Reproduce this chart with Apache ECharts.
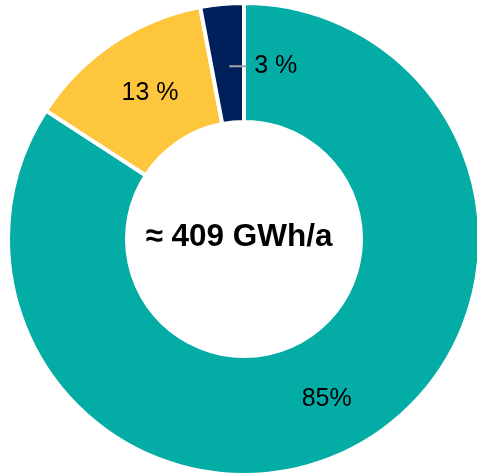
<!DOCTYPE html>
<html>
<head>
<meta charset="utf-8">
<script src="https://cdn.jsdelivr.net/npm/echarts@6/dist/echarts.min.js"></script>
<style>
  html, body { margin: 0; padding: 0; background: #fff; }
  #chart { width: 477px; height: 473px; }
</style>
</head>
<body>
<div id="chart"></div>
<script>
// Share of annual energy by source (percent), clockwise from 12 o'clock
const shareNames = ['A', 'B', 'C'];
const shareValues = [85, 13, 3];
const shareUnits = ['%', ' %', ' %'];
const shareColors = ['#03ADA6', '#FEC63D', '#00205B'];
const totalLabel = '\u2248 409 GWh/a';

const chart = echarts.init(document.getElementById('chart'), null, { renderer: 'canvas' });

const FONT = '"Liberation Sans", Arial, sans-serif';

const data = shareNames.map((name, i) => {
  const item = {
    name: name,
    value: shareValues[i],
    itemStyle: { color: shareColors[i] }
  };
  if (i === 2) {
    // smallest slice: value text sits beside it with a short leader stroke
    item.label = {
      position: 'inside',
      formatter: (p) => '{ln|}{gap|}{txt|' + p.value + shareUnits[p.dataIndex] + '}',
      rich: {
        ln: { width: 17, height: 2, backgroundColor: '#A6A6A6', verticalAlign: 'middle' },
        gap: { width: 8, height: 2 },
        txt: { fontSize: 25, fontFamily: FONT, color: '#000', verticalAlign: 'middle' }
      }
    };
  }
  return item;
});

// small nudges for the slice labels
const labelNudge = [
  { dx: -3, dy: 2 },
  { dx: 6, dy: 3 },
  { dx: 2, dy: 6, align: 'left' }
];

chart.setOption({
  animation: false,
  backgroundColor: '#fff',
  graphic: [{
    type: 'text',
    style: {
      text: totalLabel,
      x: 0, y: 0,
      font: 'bold 31.5px ' + FONT,
      fill: '#000',
      textAlign: 'center',
      textVerticalAlign: 'middle'
    },
    x: 239, y: 237
  }],
  series: [{
    type: 'pie',
    center: [244, 239],
    radius: [117, 236],
    startAngle: 90,
    clockwise: true,
    avoidLabelOverlap: false,
    itemStyle: { borderColor: '#fff', borderWidth: 4 },
    label: {
      show: true,
      position: 'inside',
      fontSize: 25,
      fontFamily: FONT,
      color: '#000',
      formatter: (p) => p.value + shareUnits[p.dataIndex]
    },
    labelLayout: (params) => labelNudge[params.dataIndex],
    labelLine: { show: false },
    emphasis: { disabled: true },
    data: data
  }]
});
</script>
</body>
</html>
